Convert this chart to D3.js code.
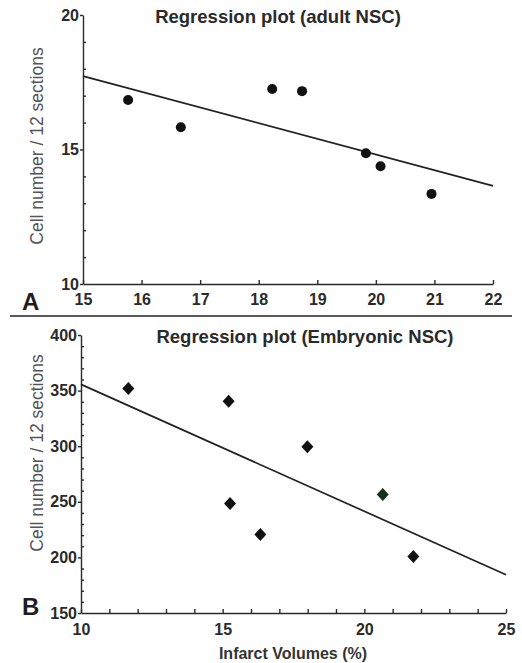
<!DOCTYPE html>
<html>
<head>
<meta charset="utf-8">
<script src="https://cdn.jsdelivr.net/npm/d3@7"></script>
<style>
  body { margin: 0; background: #fff; }
  svg { display: block; font-family: "Liberation Sans", Arial, Helvetica, sans-serif; }
  .domain, .tick line { stroke: #2a2a2a; stroke-width: 1.4; }
</style>
</head>
<body>
<div id="plot"></div>
<script>
// Panel A: adult NSC
const adultX = [15.77, 16.67, 18.23, 18.74, 19.83, 20.08, 20.95];
const adultY = [16.84, 15.83, 17.25, 17.17, 14.86, 14.38, 13.35];
const adultFitX = [15, 22];
const adultFitY = [17.73, 13.65];
const adultXTicks = [15, 16, 17, 18, 19, 20, 21, 22];
const adultYTicks = [10, 15, 20];
const adultYMinor = [11, 12, 13, 14, 16, 17, 18, 19];

// Panel B: embryonic NSC
const embX = [11.67, 15.21, 17.99, 15.26, 16.33, 20.65, 21.73];
const embY = [352, 340.5, 299.4, 248.4, 220.7, 256.5, 200.9];
const embColor = ["#111", "#111", "#111", "#111", "#111", "#17301c", "#111"];
const embFitX = [10, 25];
const embFitY = [355.6, 184.4];
const embXTicks = [10, 15, 20, 25];
const embXMinor = d3.range(11, 25).filter(v => v % 5 !== 0);
const embYTicks = [150, 200, 250, 300, 350, 400];
const embYMinor = d3.range(160, 400, 10).filter(v => v % 50 !== 0);

const W = 522, H = 663;
const svg = d3.select("#plot").append("svg")
  .attr("width", W)
  .attr("height", H);

// bold tick labels like the scanned figure
function styleTicks(a) {
  a.attr("font-family", "'Liberation Sans', Arial, sans-serif")
    .attr("font-size", 16);
  a.selectAll("text")
    .attr("font-weight", "bold")
    .attr("fill", "#2a2a2a");
}

function panel(opt) {
  const x = d3.scaleLinear().domain(opt.xDomain).range(opt.xRange);
  const y = d3.scaleLinear().domain(opt.yDomain).range(opt.yRange);
  const g = svg.append("g");

  // minor ticks (inward)
  g.append("g")
    .attr("transform", `translate(${opt.xRange[0]},0)`)
    .call(d3.axisLeft(y).tickValues(opt.yMinor).tickSize(-3).tickFormat(""))
    .call(a => a.select(".domain").remove());
  if (opt.xMinor) {
    g.append("g")
      .attr("transform", `translate(0,${opt.yRange[0]})`)
      .call(d3.axisBottom(x).tickValues(opt.xMinor).tickSize(-4).tickFormat(""))
      .call(a => a.select(".domain").remove());
  }

  // y axis, major ticks outward
  g.append("g")
    .attr("transform", `translate(${opt.xRange[0]},0)`)
    .call(d3.axisLeft(y).tickValues(opt.yTicks).tickFormat(d3.format("d"))
      .tickSizeInner(3).tickSizeOuter(0).tickPadding(1))
    .call(styleTicks);

  // x axis, ticks inward
  g.append("g")
    .attr("transform", `translate(0,${opt.yRange[0]})`)
    .call(d3.axisBottom(x).tickValues(opt.xTicks).tickFormat(d3.format("d"))
      .tickSizeInner(-4).tickSizeOuter(0).tickPadding(opt.xPad))
    .call(styleTicks);

  // regression line
  g.append("line")
    .attr("x1", x(opt.fitX[0])).attr("y1", y(opt.fitY[0]))
    .attr("x2", x(opt.fitX[1])).attr("y2", y(opt.fitY[1]))
    .attr("stroke", "#222")
    .attr("stroke-width", 1.7);

  // points
  const pts = opt.xs.map((v, i) => ({ x: v, y: opt.ys[i], c: opt.colors ? opt.colors[i] : "#111" }));
  if (opt.marker === "circle") {
    g.selectAll("circle.pt").data(pts).join("circle")
      .attr("class", "pt")
      .attr("cx", d => x(d.x))
      .attr("cy", d => y(d.y))
      .attr("r", 5)
      .attr("fill", d => d.c);
  } else {
    g.selectAll("path.pt").data(pts).join("path")
      .attr("class", "pt")
      .attr("d", d => {
        const cx = x(d.x), cy = y(d.y);
        return `M${cx},${cy - 6.5}L${cx + 6},${cy}L${cx},${cy + 6.5}L${cx - 6},${cy}Z`;
      })
      .attr("fill", d => d.c);
  }

  // title
  g.append("text")
    .attr("x", opt.titleX)
    .attr("y", opt.titleY)
    .attr("text-anchor", "middle")
    .attr("font-weight", "bold")
    .attr("font-size", 18.5)
    .attr("fill", "#2a2a2a")
    .text(opt.title);

  // y label
  g.append("text")
    .attr("transform", `translate(43,${opt.yLabelY}) rotate(-90)`)
    .attr("text-anchor", "middle")
    .attr("font-size", 17.5)
    .attr("fill", "#555")
    .text("Cell number / 12 sections");

  // panel letter
  g.append("text")
    .attr("x", 22)
    .attr("y", opt.letterY)
    .attr("font-weight", "bold")
    .attr("font-size", 24)
    .attr("fill", "#1e1e1e")
    .text(opt.letter);
}

panel({
  xDomain: [15, 22], xRange: [83, 493],
  yDomain: [10, 20], yRange: [284, 15],
  xTicks: adultXTicks, yTicks: adultYTicks, yMinor: adultYMinor, xPad: 10,
  xs: adultX, ys: adultY, fitX: adultFitX, fitY: adultFitY,
  marker: "circle",
  title: "Regression plot (adult NSC)", titleX: 278, titleY: 23,
  yLabelY: 146, letter: "A", letterY: 310
});

panel({
  xDomain: [10, 25], xRange: [81, 506],
  yDomain: [150, 400], yRange: [613, 335],
  xTicks: embXTicks, xMinor: embXMinor, yTicks: embYTicks, yMinor: embYMinor, xPad: 11,
  xs: embX, ys: embY, colors: embColor, fitX: embFitX, fitY: embFitY,
  marker: "diamond",
  title: "Regression plot (Embryonic NSC)", titleX: 305, titleY: 343,
  yLabelY: 453, letter: "B", letterY: 615
});

// separator between panels
svg.append("line")
  .attr("x1", 10).attr("x2", 512)
  .attr("y1", 316).attr("y2", 316)
  .attr("stroke", "#222")
  .attr("stroke-width", 1.7);

// x axis label
svg.append("text")
  .attr("x", 293)
  .attr("y", 659)
  .attr("text-anchor", "middle")
  .attr("font-weight", "bold")
  .attr("font-size", 16)
  .attr("fill", "#333")
  .text("Infarct Volumes (%)");
</script>
</body>
</html>
